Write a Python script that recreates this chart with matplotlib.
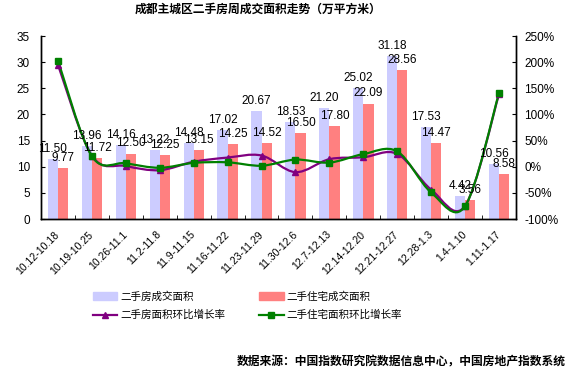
import matplotlib
matplotlib.use("Agg")
import matplotlib.pyplot as plt
from matplotlib.path import Path
from matplotlib.patches import PathPatch
from matplotlib.lines import Line2D
from matplotlib.ticker import FuncFormatter, MultipleLocator, FixedLocator
from matplotlib.transforms import ScaledTranslation

plt.rcParams['font.family'] = ['Liberation Sans', 'Noto Sans CJK SC']
plt.rcParams['axes.unicode_minus'] = False

weeks = ['10.12-10.18', '10.19-10.25', '10.26-11.1', '11.2-11.8', '11.9-11.15',
         '11.16-11.22', '11.23-11.29', '11.30-12.6', '12.7-12.13', '12.14-12.20',
         '12.21-12.27', '12.28-1.3', '1.4-1.10', '1.11-1.17']
area_all = [11.50, 13.96, 14.16, 13.22, 14.48, 17.02, 20.67, 18.53, 21.20, 25.02,
            31.18, 17.53, 4.42, 10.56]
area_res = [9.77, 11.72, 12.50, 12.25, 13.15, 14.25, 14.52, 16.50, 17.80, 22.09,
            28.56, 14.47, 3.56, 8.58]
# week-on-week growth (fraction)
growth_all = [1.95, 0.21, 0.014, -0.066, 0.095, 0.175, 0.214, -0.104, 0.144, 0.18,
              0.246, -0.438, -0.748, 1.389]
growth_res = [2.03, 0.20, 0.067, -0.02, 0.073, 0.084, 0.019, 0.136, 0.079, 0.241,
              0.293, -0.493, -0.754, 1.41]

c_all = '#ccccff'
c_res = '#ff8080'
c_line_all = '#800080'
c_line_res = '#008000'


def smooth_path(xs, ys):
    # excel-like smoothed line (catmull-rom to bezier)
    n = len(xs)
    verts = [(xs[0], ys[0])]
    codes = [Path.MOVETO]
    for i in range(n - 1):
        a = i - 1 if i > 0 else i
        d = i + 2 if i + 2 < n else i + 1
        c1 = (xs[i] + (xs[i + 1] - xs[a]) / 6, ys[i] + (ys[i + 1] - ys[a]) / 6)
        c2 = (xs[i + 1] - (xs[d] - xs[i]) / 6, ys[i + 1] - (ys[d] - ys[i]) / 6)
        verts += [c1, c2, (xs[i + 1], ys[i + 1])]
        codes += [Path.CURVE4] * 3
    return Path(verts, codes)


fig = plt.figure(figsize=(5.68, 3.69), dpi=100)
ax1 = fig.add_axes([41 / 568, 1 - 219 / 369, (516 - 41) / 568, (219 - 36) / 369])
ax2 = ax1.twinx()

x = list(range(len(weeks)))
w = 0.3
ax1.bar([i - w / 2 for i in x], area_all, w, color=c_all, zorder=2)
ax1.bar([i + w / 2 for i in x], area_res, w, color=c_res, zorder=2)

ax1.set_xlim(-0.5, len(weeks) - 0.5)
ax1.set_ylim(0, 35)
ax1.yaxis.set_major_locator(MultipleLocator(5))
ax1.set_xticks(x)
ax1.set_xticklabels(weeks, rotation=45, ha='right', va='center',
                    rotation_mode='anchor', fontsize=7.5)
shift = ScaledTranslation(-6 / 100, -6 / 100, fig.dpi_scale_trans)
for lab in ax1.get_xticklabels():
    lab.set_transform(lab.get_transform() + shift)
ax1.xaxis.set_minor_locator(FixedLocator([i - 0.5 for i in range(len(weeks) + 1)]))
ax1.tick_params(axis='x', which='major', length=0, pad=10)
ax1.tick_params(axis='x', which='minor', direction='in', length=3)
ax1.tick_params(axis='y', direction='in', length=3, labelsize=8.5, pad=8)

ax2.set_ylim(-1, 2.5)
ax2.yaxis.set_major_locator(MultipleLocator(0.5))
ax2.yaxis.set_major_formatter(FuncFormatter(lambda v, p: f'{v * 100:.0f}%'))
ax2.tick_params(axis='y', direction='in', length=3, labelsize=8.5, pad=6)

for ax in (ax1, ax2):
    ax.spines['top'].set_visible(False)
    for s in ('left', 'right', 'bottom'):
        ax.spines[s].set_linewidth(1.0)
        ax.spines[s].set_color('black')

ax2.add_patch(PathPatch(smooth_path(x, growth_all), fill=False,
                        edgecolor=c_line_all, lw=1.6, zorder=3))
ax2.add_patch(PathPatch(smooth_path(x, growth_res), fill=False,
                        edgecolor=c_line_res, lw=1.6, zorder=3))
ax2.plot(x, growth_all, ls='none', marker='^', ms=5, color=c_line_all, zorder=4)
ax2.plot(x, growth_res, ls='none', marker='s', ms=4.5, color=c_line_res, zorder=4)

for i in x:
    ax2.annotate(f'{area_all[i]:.2f}', (i - w / 2, area_all[i]), xycoords=ax1.transData,
                 xytext=(0, 3), textcoords='offset points', ha='center', va='bottom',
                 fontsize=8.5, zorder=5)
    ax2.annotate(f'{area_res[i]:.2f}', (i + w / 2, area_res[i]), xycoords=ax1.transData,
                 xytext=(0, 3), textcoords='offset points', ha='center', va='bottom',
                 fontsize=8.5, zorder=5)

handles = [
    plt.Rectangle((0, 0), 1, 1, color=c_all),
    Line2D([], [], color=c_line_all, lw=1.6, marker='^', ms=5),
    plt.Rectangle((0, 0), 1, 1, color=c_res),
    Line2D([], [], color=c_line_res, lw=1.6, marker='s', ms=4.5),
]
labels = ['二手房成交面积', '二手房面积环比增长率', '二手住宅成交面积', '二手住宅面积环比增长率']
fig.legend(handles, labels, ncol=2, loc='upper left', bbox_to_anchor=(93 / 568, 1 - 291 / 369),
           frameon=False, fontsize=7.6, borderpad=0, borderaxespad=0,
           handlelength=2.3, handletextpad=0.3, columnspacing=3.2, labelspacing=0.8)

fig.text(258 / 568, 1 - 10 / 369, '成都主城区二手房周成交面积走势（万平方米）',
         ha='center', va='center', fontsize=8.5, fontweight='bold')
fig.text(566 / 568, 1 - 362 / 369, '数据来源：中国指数研究院数据信息中心，中国房地产指数系统',
         ha='right', va='center', fontsize=8.5, fontweight='bold')

fig.savefig('out.png', dpi=100)
